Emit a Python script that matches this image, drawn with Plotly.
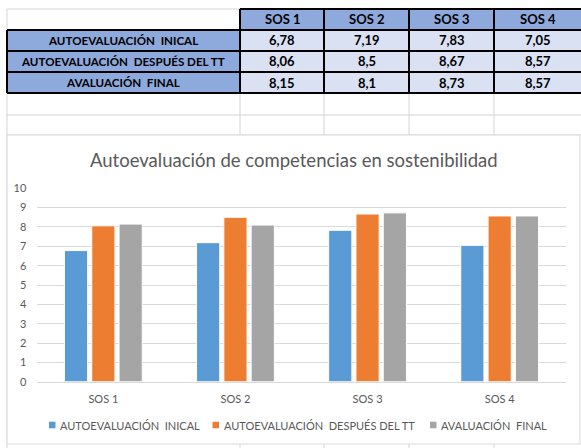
import plotly.graph_objects as go

W, H = 581, 448

categories = ["SOS 1", "SOS 2", "SOS 3", "SOS 4"]
series_names = ["AUTOEVALUACIÓN  INICAL", "AUTOEVALUACIÓN  DESPUÉS DEL TT", "AVALUACIÓN  FINAL"]
inicial = [6.78, 7.19, 7.83, 7.05]
despues = [8.06, 8.5, 8.67, 8.57]
final = [8.15, 8.1, 8.73, 8.57]
y_ticks = [0, 1, 2, 3, 4, 5, 6, 7, 8, 9, 10]
title_text = "Autoevaluación de competencias en sostenibilidad"

series_values = [inicial, despues, final]
colors = ["#5B9BD5", "#ED7D31", "#A5A5A5"]
FONT = "Lato, Open Sans, sans-serif"


def px(x):
    return x / W


def py(y):
    return 1 - y / H


def nbsp(s):
    return s.replace("  ", "\u00a0 ")


fig = go.Figure()
for name, vals, col in zip(series_names, series_values, colors):
    fig.add_trace(go.Bar(
        x=categories, y=vals, name=nbsp(name),
        marker=dict(color=col, line=dict(color="white", width=1)),
    ))

shapes = []
annotations = []

# spreadsheet grid (light grey)
grid_col = "#D4D4D4"
col_x = [7, 240, 324, 409, 494, 581]
row_y = [9, 30, 51, 72, 93, 115, 135]
for y in row_y:
    shapes.append(dict(type="line", xref="paper", yref="paper", x0=px(7), x1=px(581),
                       y0=py(y), y1=py(y), line=dict(color=grid_col, width=1), layer="below"))
for x in col_x[:-1]:
    shapes.append(dict(type="line", xref="paper", yref="paper", x0=px(x), x1=px(x),
                       y0=py(9), y1=py(448), line=dict(color=grid_col, width=1), layer="below"))

# coloured cells
hdr_fill = "#8EA9DB"
val_fill = "#D9E1F2"
for i in range(4):
    shapes.append(dict(type="rect", xref="paper", yref="paper", x0=px(col_x[i + 1]), x1=px(col_x[i + 2]),
                       y0=py(row_y[0]), y1=py(row_y[1]), fillcolor=hdr_fill, line=dict(width=0), layer="below"))
for r in range(3):
    shapes.append(dict(type="rect", xref="paper", yref="paper", x0=px(col_x[0]), x1=px(col_x[1]),
                       y0=py(row_y[r + 1]), y1=py(row_y[r + 2]), fillcolor=hdr_fill, line=dict(width=0), layer="below"))
    for i in range(4):
        shapes.append(dict(type="rect", xref="paper", yref="paper", x0=px(col_x[i + 1]), x1=px(col_x[i + 2]),
                           y0=py(row_y[r + 1]), y1=py(row_y[r + 2]), fillcolor=val_fill, line=dict(width=0), layer="below"))

# thick black borders
blk = dict(color="black", width=2)
shapes.append(dict(type="line", xref="paper", yref="paper", x0=px(240), x1=px(581), y0=py(9), y1=py(9), line=blk, layer="below"))
for y in row_y[1:5]:
    shapes.append(dict(type="line", xref="paper", yref="paper", x0=px(7), x1=px(581), y0=py(y), y1=py(y), line=blk, layer="below"))
shapes.append(dict(type="line", xref="paper", yref="paper", x0=px(7), x1=px(7), y0=py(30), y1=py(93), line=blk, layer="below"))
for x in col_x[1:5]:
    shapes.append(dict(type="line", xref="paper", yref="paper", x0=px(x), x1=px(x), y0=py(9), y1=py(93), line=blk, layer="below"))

# table text
tfont = dict(family=FONT, size=13, color="black")
for i, c in enumerate(categories):
    annotations.append(dict(xref="paper", yref="paper", x=px((col_x[i + 1] + col_x[i + 2]) / 2),
                            y=py((row_y[0] + row_y[1]) / 2), text="<b>%s</b>" % c, showarrow=False,
                            font=tfont, xanchor="center", yanchor="middle"))
for r, (name, vals) in enumerate(zip(series_names, series_values)):
    yc = py((row_y[r + 1] + row_y[r + 2]) / 2)
    annotations.append(dict(xref="paper", yref="paper", x=px((col_x[0] + col_x[1]) / 2), y=yc,
                            text="<b>%s</b>" % nbsp(name), showarrow=False,
                            font=dict(family=FONT, size=11.6, color="black"),
                            xanchor="center", yanchor="middle"))
    for i, v in enumerate(vals):
        annotations.append(dict(xref="paper", yref="paper", x=px((col_x[i + 1] + col_x[i + 2]) / 2), y=yc,
                                text="<b>%s</b>" % ("%g" % v).replace(".", ","), showarrow=False,
                                font=tfont, xanchor="center", yanchor="middle"))

# chart box
shapes.append(dict(type="rect", xref="paper", yref="paper", x0=px(7), x1=px(580), y0=py(135), y1=py(444),
                   fillcolor="white", line=dict(color="#D9D9D9", width=1), layer="below"))

annotations.append(dict(xref="paper", yref="paper", x=px(293.5), y=py(160), text=title_text, showarrow=False,
                        font=dict(family=FONT, size=18.5, color="#595959"),
                        xanchor="center", yanchor="middle"))

# legend (drawn in Excel style: small squares + labels)
leg_sq_x = [49, 212.5, 430]
for name, col, lx in zip(series_names, colors, leg_sq_x):
    shapes.append(dict(type="rect", xref="paper", yref="paper", x0=px(lx), x1=px(lx + 6.5),
                       y0=py(428.3), y1=py(421.7), fillcolor=col, line=dict(width=0), layer="above"))
    annotations.append(dict(xref="paper", yref="paper", x=px(lx + 9), y=py(425), text=nbsp(name),
                            showarrow=False, font=dict(family=FONT, size=11, color="#595959"),
                            xanchor="left", yanchor="middle"))

fig.update_layout(
    width=W, height=H,
    autosize=False,
    margin=dict(l=0, r=0, t=0, b=0, pad=0, autoexpand=False),
    paper_bgcolor="white",
    plot_bgcolor="rgba(0,0,0,0)",
    barmode="group",
    bargap=0.38,
    bargroupgap=0.15,
    shapes=shapes,
    annotations=annotations,
    font=dict(family=FONT, size=11, color="#595959"),
    xaxis=dict(domain=[px(37.3), px(565.7)], showgrid=False, showline=True, linecolor="#D9D9D9",
               ticks="", tickfont=dict(size=11, color="#595959"), ticklabelstandoff=7, automargin=False),
    yaxis=dict(domain=[py(381.7), py(188.3)], range=[0, 10], tickvals=y_ticks,
               gridcolor="#D9D9D9", gridwidth=1, zeroline=False, showline=False,
               tickfont=dict(size=11, color="#595959"), ticklabelstandoff=10, automargin=False),
    showlegend=False,
)

post = (
    "document.documentElement.style.margin='0';"
    "document.documentElement.style.overflow='hidden';"
    "document.body.style.margin='0';"
    "document.body.style.overflow='hidden';"
    "var d=document.getElementById('{plot_id}');"
    "d.style.position='fixed';d.style.top='0px';d.style.left='0px';"
)
fig.write_html("out.html", config={"displayModeBar": False}, post_script=post)
